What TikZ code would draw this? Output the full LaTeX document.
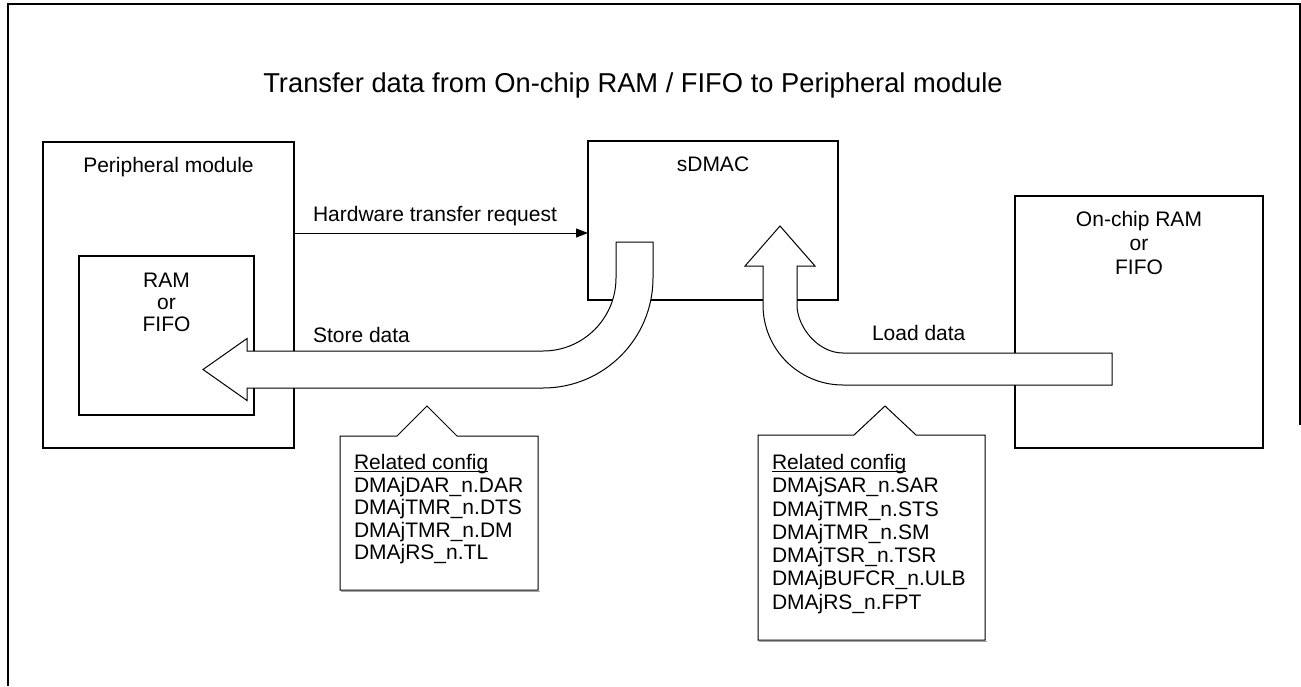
\documentclass[tikz,border=0pt]{standalone}
\usepackage{fontspec}
\setmainfont{Liberation Sans}
\usetikzlibrary{arrows.meta}
\newcommand\cfgul[1]{\setbox0\hbox{#1}\rlap{\rule[-2.5pt]{\wd0}{1.1pt}}\box0}
\begin{document}
\begin{tikzpicture}[x=1pt,y=-1pt,
  blk/.style={draw, line width=2pt, inner sep=0pt, outer sep=0pt},
  lbl/.style={inner sep=0pt, outer sep=0pt, font=\fontsize{21}{23}\selectfont},
  thinline/.style={line width=1pt},
  flow/.style={draw, fill=white, line width=1pt, line join=miter},
  cfg/.style={draw, fill=white, line width=1pt},
  shadowline/.style={draw=black!35, line width=1.2pt}]
\useasboundingbox (0,0) rectangle (1301,686);
% outer frame
\coordinate (fbl) at (8,686);
\coordinate (ftl) at (8,4);
\coordinate (ftr) at (1299.5,4);
\coordinate (fbr) at (1299.5,425);
\draw[line width=2pt] (fbl) -- (ftl) -- (ftr) -- (fbr);
% title
\node[lbl, font=\fontsize{27.3}{30}\selectfont, anchor=base] (title) at (633,92) {Transfer data from On-chip RAM / FIFO to Peripheral module};
% boxes
\node[blk, minimum width=251pt, minimum height=306pt] (pm) at (168.5,295) {};
\node[blk, minimum width=175pt, minimum height=159pt] (ram) at (166.5,335.5) {};
\node[blk, minimum width=250pt, minimum height=159pt] (sd) at (713,220.5) {};
\node[blk, minimum width=248pt, minimum height=252pt] (oc) at (1139,322) {};
% box labels
\node[lbl, anchor=base] (pml) at (168.5,172.5) {Peripheral module};
\node[lbl, anchor=north, align=center, font=\fontsize{21}{22}\selectfont] (raml) at (166.5,273.5) {RAM\\or\\FIFO};
\node[lbl, anchor=base] (sdl) at (713,171.5) {sDMAC};
\node[lbl, anchor=north, align=center, font=\fontsize{21}{24}\selectfont] (ocl) at (1139,211.5) {On-chip RAM\\or\\FIFO};
% hardware request
\coordinate (hw) at (0,233);
\draw[thinline, -{Triangle[length=12pt,width=9pt]}] (pm.east |- hw) -- (sd.west |- hw);
\node[lbl, anchor=base west] (hwl) at (313,221.5) {Hardware transfer request};
% store data arrow
\draw[flow] (616,242) -- (653,242) -- (653,278) .. controls (653,338.8) and (603.8,388) .. (543,388) -- (247,388) -- (247,400.5) -- (203,369.5) -- (247,338.5) -- (247,351) -- (543,351) .. controls (583.3,351) and (616,318.3) .. (616,278) -- cycle;
\node[lbl, anchor=base west] (stl) at (313,342.5) {Store data};
% load data arrow
\draw[flow] (1112,353) -- (843,353) .. controls (817.6,353) and (797,326.5) .. (797,305) -- (797,266) -- (815,266) -- (780,226) -- (745,266) -- (763,266) -- (763,305) .. controls (763,349.2) and (798.8,385) .. (843,385) -- (1112,385) -- cycle;
\node[lbl, anchor=base west] (ldl) at (872,340.5) {Load data};
% config callouts
\draw[shadowline] (341,591.5) -- (539.5,591.5);
\draw[cfg] (340,436) -- (397,436) -- (427,406) -- (457,436) -- (538,436) -- (538,590) -- (340,590) -- cycle;
\node[lbl, anchor=north west, align=left, font=\fontsize{21}{22.5}\selectfont] (cfgl) at (354,454.7) {\cfgul{Related config}\\DMAjDAR\_n.DAR\\DMAjTMR\_n.DTS\\DMAjTMR\_n.DM\\DMAjRS\_n.TL};
\draw[shadowline] (759,641.5) -- (986.5,641.5);
\draw[cfg] (758,435) -- (854,435) -- (885,406) -- (916,435) -- (985,435) -- (985,640) -- (758,640) -- cycle;
\node[lbl, anchor=north west, align=left, font=\fontsize{21}{23.3}\selectfont] (cfgr) at (772,454.2) {\cfgul{Related config}\\DMAjSAR\_n.SAR\\DMAjTMR\_n.STS\\DMAjTMR\_n.SM\\DMAjTSR\_n.TSR\\DMAjBUFCR\_n.ULB\\DMAjRS\_n.FPT};
\end{tikzpicture}
\end{document}
